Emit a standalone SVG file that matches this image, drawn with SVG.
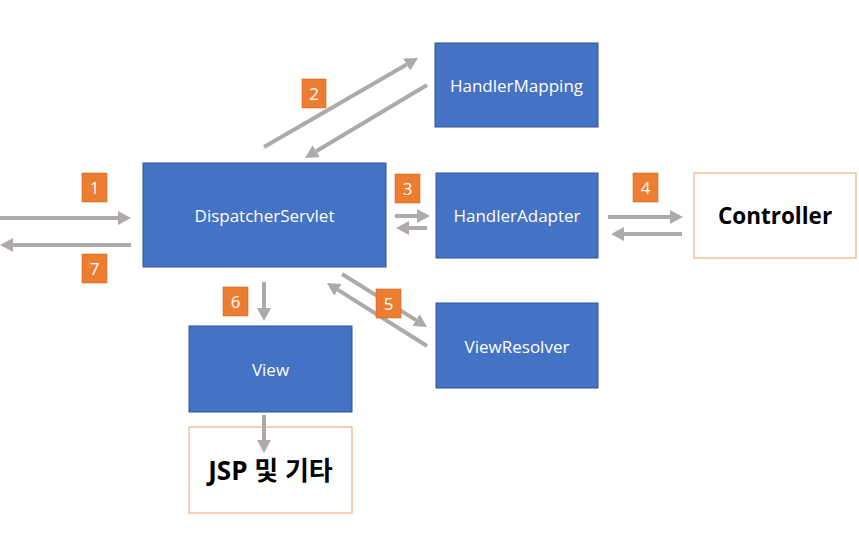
<svg xmlns="http://www.w3.org/2000/svg" width="859" height="536" viewBox="0 0 859 536">
<defs>
<marker id="ah" markerUnits="userSpaceOnUse" markerWidth="13" markerHeight="14" refX="0" refY="7" orient="auto" viewBox="0 0 13 14">
<path d="M0,0 L13,7 L0,14 z" fill="#AEAAAA"/>
</marker>
<style>
.blue{fill:#4472C4;stroke:#2F5597;stroke-width:1}
.white{fill:#FFFFFF;stroke:#F4B183;stroke-width:1.2}
.lbl{font-family:"Open Sans","Noto Sans",sans-serif;font-size:17px;fill:#FFFFFF;text-anchor:middle;dominant-baseline:central}
.big{font-family:"Open Sans","Noto Sans","Noto Sans CJK KR",sans-serif;font-size:22.5px;font-weight:bold;fill:#000000;text-anchor:middle;dominant-baseline:central}
.badge{fill:#ED7D31;stroke:#C55A11;stroke-width:0.5}
.num{font-family:"Open Sans","Noto Sans",sans-serif;font-size:17px;fill:#FFFFFF;text-anchor:middle;dominant-baseline:central}
.arr{stroke:#AEAAAA;stroke-width:4;fill:none;marker-end:url(#ah)}
</style>
</defs>
<rect width="859" height="536" fill="#FFFFFF"/>
<g id="dispatcher"><rect class="blue" x="143" y="163" width="243" height="104"/><text class="lbl" x="264.5" y="215">DispatcherServlet</text></g>
<g id="handlermapping"><rect class="blue" x="435" y="43" width="163" height="84"/><text class="lbl" x="516.5" y="85">HandlerMapping</text></g>
<g id="handleradapter"><rect class="blue" x="436" y="173" width="162" height="85"/><text class="lbl" x="517" y="215.5">HandlerAdapter</text></g>
<g id="controller"><rect class="white" x="694" y="173" width="162" height="85"/><text class="big" x="775" y="215.5">Controller</text></g>
<g id="viewresolver"><rect class="blue" x="436" y="303" width="162" height="85"/><text class="lbl" x="517" y="346">ViewResolver</text></g>
<g id="view"><rect class="blue" x="189" y="326" width="163" height="86"/><text class="lbl" x="270.5" y="369">View</text></g>
<g id="jsp"><rect class="white" x="189" y="427" width="163" height="86"/><text class="big" x="270.5" y="470" style="font-size:26px">JSP 및 기타</text></g>
<g id="connectors">
<line class="arr" x1="0" y1="218" x2="118" y2="218"/>
<line class="arr" x1="131" y1="245" x2="13" y2="245"/>
<line class="arr" x1="264" y1="147" x2="406.7" y2="64.5"/>
<line class="arr" x1="427" y1="85" x2="316.2" y2="151.3"/>
<line class="arr" x1="395" y1="216" x2="417" y2="216"/>
<line class="arr" x1="427" y1="228" x2="409" y2="228"/>
<line class="arr" x1="608" y1="217" x2="670" y2="217"/>
<line class="arr" x1="682" y1="234" x2="624" y2="234"/>
<line class="arr" x1="264" y1="282" x2="264" y2="308"/>
<line class="arr" x1="264" y1="415" x2="264" y2="440"/>
<line class="arr" x1="342" y1="274" x2="416" y2="320.1"/>
<line class="arr" x1="427" y1="346" x2="338" y2="289.9"/>
</g>
<g id="badges">
<rect class="badge" x="82" y="173" width="25" height="29"/><text class="num" x="94.5" y="187.5">1</text>
<rect class="badge" x="302" y="79" width="24" height="29"/><text class="num" x="314" y="93.5">2</text>
<rect class="badge" x="395" y="174" width="25" height="29"/><text class="num" x="407.5" y="188.5">3</text>
<rect class="badge" x="633" y="173" width="25" height="29"/><text class="num" x="645.5" y="187.5">4</text>
<rect class="badge" x="376" y="289" width="25" height="29"/><text class="num" x="388.5" y="303.5">5</text>
<rect class="badge" x="223" y="287" width="25" height="29"/><text class="num" x="235.5" y="301.5">6</text>
<rect class="badge" x="82" y="254" width="25" height="29"/><text class="num" x="94.5" y="268.5">7</text>
</g>
</svg>
